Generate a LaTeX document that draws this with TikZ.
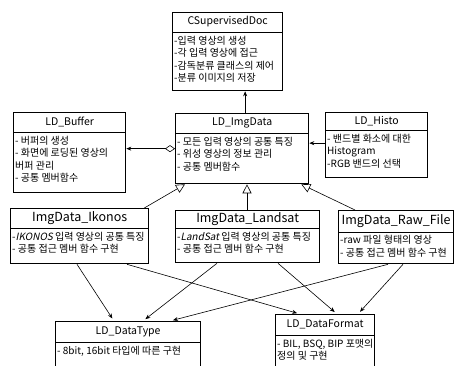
\documentclass[tikz,border=0pt]{standalone}
\usepackage{fontspec}
\setmainfont{Noto Sans CJK KR}
\newfontfamily\krit[FakeSlant=0.2]{Noto Sans CJK KR}
\usetikzlibrary{arrows.meta}

\begin{document}
\begin{tikzpicture}[x=1pt,y=-1pt,
	cls/.style={draw,line width=1.3pt,inner sep=0pt,anchor=north west},
	ttl/.style={font=\fontsize{10.5}{12}\selectfont},
	bigttl/.style={font=\fontsize{12.5}{14}\selectfont},
	txt/.style={anchor=north west,align=left,inner sep=2pt,font=\fontsize{10}{12.5}\selectfont},
	sep/.style={line width=0.7pt},
	dep/.style={line width=0.6pt,-{Stealth[length=5pt,width=4pt]},shorten >=3pt},
	inh/.style={line width=0.6pt,-{Triangle[open,length=9pt,width=9pt]}},
	agg/.style={line width=0.6pt,{Diamond[open,length=10pt,width=7pt]}-{Stealth[length=5pt,width=4pt]}}]
			\useasboundingbox (0,0) rectangle (460,365);
			% classes
			\node[cls,minimum width=110pt,minimum height=78pt] (doc) at (172,12) {};
			\node[ttl] (doct) at ([yshift=-10pt]doc.north) {CSupervisedDoc};
			\draw[sep] ([yshift=-20pt]doc.north west) -- ([yshift=-20pt]doc.north east);
			\node[txt] (docb) at ([yshift=-22pt]doc.north west) {-입력 영상의 생성\\-각 입력 영상에 접근\\-감독분류 클래스의 제어\\-분류 이미지의 저장};

			\node[cls,minimum width=112pt,minimum height=80pt] (buf) at (13,112) {};
			\node[ttl] (buft) at ([yshift=-10pt]buf.north) {LD\_Buffer};
			\draw[sep] ([yshift=-20pt]buf.north west) -- ([yshift=-20pt]buf.north east);
			\node[txt] (bufb) at ([yshift=-22pt]buf.north west) {- 버퍼의 생성\\- 화면에 로딩된 영상의\\버퍼 관리\\- 공통 멤버함수};

			\node[cls,minimum width=133pt,minimum height=70pt] (img) at (175,113) {};
			\node[ttl] (imgt) at ([yshift=-10pt]img.north) {LD\_ImgData};
			\draw[sep] ([yshift=-20pt]img.north west) -- ([yshift=-20pt]img.north east);
			\node[txt] (imgb) at ([yshift=-22pt]img.north west) {- 모든 입력 영상의 공통 특징\\- 위성 영상의 정보 관리\\- 공통 멤버함수};

			\node[cls,minimum width=102pt,minimum height=65pt] (histo) at (325,112) {};
			\node[ttl] (histot) at ([yshift=-9pt]histo.north) {LD\_Histo};
			\draw[sep] ([yshift=-18pt]histo.north west) -- ([yshift=-18pt]histo.north east);
			\node[txt] (histob) at ([yshift=-20pt]histo.north west) {- 밴드별 화소에 대한\\Histogram\\-RGB 밴드의 선택};

			\node[cls,minimum width=138pt,minimum height=55pt] (ikonos) at (10,208) {};
			\node[bigttl] (ikonost) at ([yshift=-10pt]ikonos.north) {ImgData\_Ikonos};
			\draw[sep] ([yshift=-20pt]ikonos.north west) -- ([yshift=-20pt]ikonos.north east);
			\node[txt] (ikonosb) at ([yshift=-22pt]ikonos.north west) {-{\krit IKONOS} 입력 영상의 공통 특징\\- 공통 접근 멤버 함수 구현};

			\node[cls,minimum width=144pt,minimum height=52pt] (landsat) at (175,210) {};
			\node[bigttl] (landsatt) at ([yshift=-9pt]landsat.north) {ImgData\_Landsat};
			\draw[sep] ([yshift=-18pt]landsat.north west) -- ([yshift=-18pt]landsat.north east);
			\node[txt] (landsatb) at ([yshift=-20pt]landsat.north west) {-{\krit LandSat} 입력 영상의 공통 특징\\- 공통 접근 멤버 함수 구현};

			\node[cls,minimum width=115pt,minimum height=53pt] (raw) at (338,210) {};
			\node[bigttl] (rawt) at ([yshift=-11pt]raw.north) {ImgData\_Raw\_File};
			\draw[sep] ([yshift=-22pt]raw.north west) -- ([yshift=-22pt]raw.north east);
			\node[txt] (rawb) at ([yshift=-23pt]raw.north west) {-raw 파일 형태의 영상\\- 공통 접근 멤버 함수 구현};

			\node[cls,minimum width=145pt,minimum height=50pt] (dtype) at (55,321) {};
			\node[ttl] (dtypet) at ([yshift=-10.5pt]dtype.north) {LD\_DataType};
			\draw[sep] ([yshift=-21pt]dtype.north west) -- ([yshift=-21pt]dtype.north east);
			\node[txt] (dtypeb) at ([yshift=-23pt]dtype.north west) {- 8bit, 16bit 타입에 따른 구현};

			\node[cls,minimum width=99pt,minimum height=56pt] (dformat) at (275,314) {};
			\node[ttl] (dformatt) at ([yshift=-10.5pt]dformat.north) {LD\_DataFormat};
			\draw[sep] ([yshift=-21pt]dformat.north west) -- ([yshift=-21pt]dformat.north east);
			\node[txt] (dformatb) at ([yshift=-23pt]dformat.north west) {- BIL, BSQ, BIP 포맷의\\정의 및 구현};

			% relations
			\draw[dep,shorten >=0pt] ([xshift=3pt]img.north) -- ([xshift=3pt]img.north |- doc.south);
			\draw[agg] (img.west) -- (img.west -| buf.east);
			\draw[dep,shorten >=0pt] ([yshift=2pt]histo.west) -- ([yshift=2pt]histo.west -| img.east);
			\draw[inh] ([xshift=-5pt]ikonos.north east) -- ([xshift=10pt]img.south west);
			\draw[inh] ([xshift=72pt]landsat.north west) -- ([xshift=72pt]landsat.north west |- img.south);
			\draw[inh] ([xshift=17pt]raw.north west) -- ([xshift=-8pt]img.south east);
			\draw[dep] ([xshift=67pt]ikonos.south west) -- ([xshift=59pt]dtype.north west);
			\draw[dep] ([xshift=42pt]landsat.south west) -- ([xshift=88pt]dtype.north west);
			\draw[dep] ([xshift=50pt]raw.south west) -- ([xshift=115pt]dtype.north west);
			\draw[dep] ([xshift=117pt]ikonos.south west) -- ([xshift=25pt]dformat.north west);
			\draw[dep] ([xshift=103pt]landsat.south west) -- ([xshift=62pt]dformat.north west);
			\draw[dep] ([xshift=65pt]raw.south west) -- ([xshift=83pt]dformat.north west);
\end{tikzpicture}
\end{document}
